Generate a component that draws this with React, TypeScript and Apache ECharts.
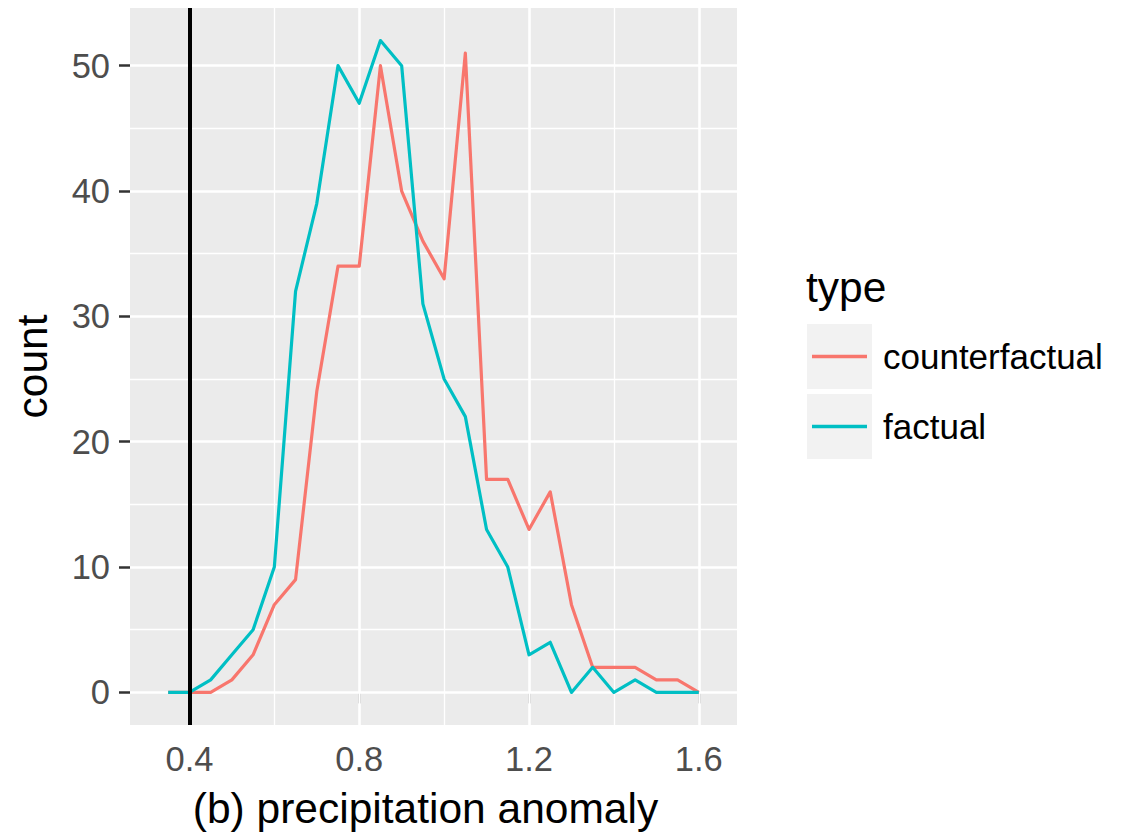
import React, { useEffect, useRef } from "react";
import * as echarts from "echarts";

// Frequency polygon of precipitation anomaly, bin width 0.05
const binCenters = [
  0.35, 0.4, 0.45, 0.5, 0.55, 0.6, 0.65, 0.7, 0.75, 0.8, 0.85, 0.9, 0.95,
  1.0, 1.05, 1.1, 1.15, 1.2, 1.25, 1.3, 1.35, 1.4, 1.45, 1.5, 1.55, 1.6,
];
const counterfactualCounts = [
  0, 0, 0, 1, 3, 7, 9, 24, 34, 34, 50, 40, 36, 33, 51, 17, 17, 13, 16, 7, 2,
  2, 2, 1, 1, 0,
];
const factualCounts = [
  0, 0, 1, 3, 5, 10, 32, 39, 50, 47, 52, 50, 31, 25, 22, 13, 10, 3, 4, 0, 2,
  0, 1, 0, 0, 0,
];
const seriesNames = ["counterfactual", "factual"];
const seriesColors = ["#F8766D", "#00BFC4"];

const xBreaks = [0.4, 0.8, 1.2, 1.6];
const xMinorBreaks = [0.6, 1.0, 1.4];
const yBreaks = [0, 10, 20, 30, 40, 50];
const yMinorBreaks = [5, 15, 25, 35, 45];
const referenceX = 0.4;

const FONT = "'Liberation Sans', Arial, Helvetica, sans-serif";

function pairs(xs: number[], ys: number[]) {
  return xs.map((x, i) => [x, ys[i]]);
}

export default function App() {
  const ref = useRef<HTMLDivElement>(null);

  useEffect(() => {
    document.body.style.margin = "0";
    if (!ref.current) return;
    const chart = echarts.init(ref.current, undefined, { renderer: "svg" });

    const gridLine = (width: number) => ({
      lineStyle: { color: "#FFFFFF", width, type: "solid" as const },
    });

    const option: any = {
      animation: false,
      backgroundColor: "#FFFFFF",
      textStyle: { fontFamily: FONT },
      grid: {
        left: 130,
        right: 385,
        top: 8,
        bottom: 109,
        show: true,
        backgroundColor: "#EBEBEB",
        borderWidth: 0,
      },
      xAxis: {
        type: "value",
        min: 0.26,
        max: 1.69,
        splitLine: { show: false },
        axisLine: { show: false },
        axisTick: {
          show: true,
          length: 11,
          customValues: xBreaks,
          lineStyle: { color: "#333333", width: 2.5 },
        },
        axisLabel: {
          customValues: xBreaks,
          formatter: (v: number) => v.toFixed(1),
          color: "#4D4D4D",
          fontSize: 34.5,
          fontFamily: FONT,
          margin: 16,
        },
        name: "(b) precipitation anomaly",
        nameLocation: "middle",
        nameGap: 62,
        nameTextStyle: {
          color: "#000000",
          fontSize: 42.5,
          fontFamily: FONT,
          padding: [0, 16, 0, 0],
        },
      },
      yAxis: {
        type: "value",
        min: -2.6,
        max: 54.6,
        splitLine: { show: false },
        axisLine: { show: false },
        axisTick: {
          show: true,
          length: 11,
          customValues: yBreaks,
          lineStyle: { color: "#333333", width: 2.5 },
        },
        axisLabel: {
          customValues: yBreaks,
          color: "#4D4D4D",
          fontSize: 34.5,
          fontFamily: FONT,
          margin: 20,
        },
        name: "count",
        nameLocation: "middle",
        nameGap: 76,
        nameTextStyle: { color: "#000000", fontSize: 42.5, fontFamily: FONT },
      },
      series: [
        {
          // panel grid lines, kept beneath the data
          type: "line",
          data: [],
          z: 1,
          silent: true,
          markLine: {
            z: 1,
            silent: true,
            symbol: "none",
            label: { show: false },
            emphasis: { disabled: true },
            data: [
              ...xMinorBreaks.map((v) => ({ xAxis: v, ...gridLine(1.3) })),
              ...yMinorBreaks.map((v) => ({ yAxis: v, ...gridLine(1.3) })),
              ...xBreaks.map((v) => ({ xAxis: v, ...gridLine(2.6) })),
              ...yBreaks.map((v) => ({ yAxis: v, ...gridLine(2.6) })),
            ],
          },
        },
        ...[counterfactualCounts, factualCounts].map((counts, i) => ({
          name: seriesNames[i],
          type: "line",
          data: pairs(binCenters, counts),
          showSymbol: false,
          symbol: "none",
          z: 3 + i,
          lineStyle: { color: seriesColors[i], width: 3.2, join: "round" },
          itemStyle: { color: seriesColors[i] },
        })),
        {
          // reference line at 0.4
          type: "line",
          data: [],
          z: 10,
          silent: true,
          markLine: {
            z: 10,
            silent: true,
            symbol: "none",
            label: { show: false },
            emphasis: { disabled: true },
            data: [
              {
                xAxis: referenceX,
                lineStyle: { color: "#000000", width: 4, type: "solid" },
              },
            ],
          },
        },
      ],
      graphic: [
        {
          type: "text",
          left: 806,
          top: 266,
          style: {
            text: "type",
            fontSize: 42.5,
            fontFamily: FONT,
            fill: "#000000",
          },
        },
        ...seriesNames.flatMap((name, i) => {
          const top = 324 + i * 70;
          return [
            {
              type: "rect",
              shape: { x: 807, y: top, width: 65, height: 65 },
              style: { fill: "#F2F2F2" },
            },
            {
              type: "line",
              shape: { x1: 812, y1: top + 32.5, x2: 867, y2: top + 32.5 },
              style: { stroke: seriesColors[i], lineWidth: 3.3 },
            },
            {
              type: "text",
              x: 883,
              y: top + 32.5,
              style: {
                text: name,
                fontSize: 35,
                fontFamily: FONT,
                fill: "#000000",
                verticalAlign: "middle",
                align: "left",
              },
            },
          ];
        }),
      ],
    };

    chart.setOption(option);
    return () => chart.dispose();
  }, []);

  return <div ref={ref} style={{ width: 1122, height: 835 }} />;
}
